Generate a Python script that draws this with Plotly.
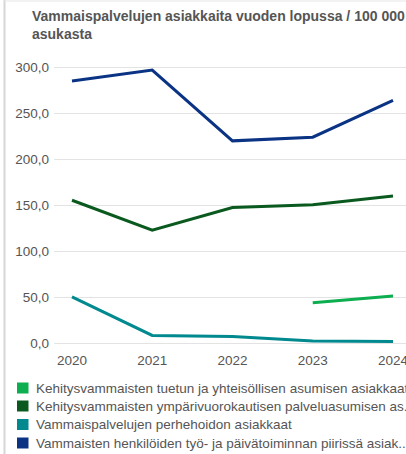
import plotly.graph_objects as go

years = [2020, 2021, 2022, 2023, 2024]
series_names = [
    "Kehitysvammaisten tuetun ja yhteisöllisen asumisen asiakkaat",
    "Kehitysvammaisten ympärivuorokautisen palveluasumisen as.",
    "Vammaispalvelujen perhehoidon asiakkaat",
    "Vammaisten henkilöiden työ- ja päivätoiminnan piirissä asiak..",
]
tuettu = [None, None, None, 44.0, 51.5]
ymparivuorokautinen = [155.5, 123.0, 147.5, 150.5, 160.0]
perhehoito = [50.5, 8.5, 7.5, 2.5, 2.0]
tyo_paiva = [285.0, 297.0, 220.0, 224.0, 264.0]
colors = ["#0cae4f", "#0a5a1f", "#00898e", "#0a3384"]
y_ticks = [0, 50, 100, 150, 200, 250, 300]
y_tick_labels = ["0,0", "50,0", "100,0", "150,0", "200,0", "250,0", "300,0"]

W, H = 406, 454
ML, MR, MT, MB = 54, 0, 60, 104

fig = go.Figure()
for vals, col in zip([tuettu, ymparivuorokautinen, perhehoito, tyo_paiva], colors):
    fig.add_trace(go.Scatter(x=years, y=vals, mode="lines",
                             line=dict(color=col, width=3), showlegend=False,
                             hoverinfo="skip"))

def px_to_paper(x, y):
    return (x - ML) / (W - ML - MR), 1 - (y - MT) / (H - MT - MB)

shapes = []
annotations = []
# frame lines (left and top border)
shapes.append(dict(type="line", xref="paper", yref="paper",
                   x0=px_to_paper(4.5, 0)[0], x1=px_to_paper(4.5, 0)[0],
                   y0=px_to_paper(0, 0)[1], y1=px_to_paper(0, H)[1],
                   line=dict(color="#d6d6d6", width=2)))
shapes.append(dict(type="line", xref="paper", yref="paper",
                   x0=px_to_paper(4, 0)[0], x1=px_to_paper(W, 0)[0],
                   y0=px_to_paper(0, 1)[1], y1=px_to_paper(0, 1)[1],
                   line=dict(color="#e6e6e6", width=1)))

row_y = [388, 406, 424.5, 443]
for name, col, ry in zip(series_names, colors, row_y):
    x0, y0 = px_to_paper(17, ry - 5.5)
    x1, y1 = px_to_paper(28.5, ry + 5.5)
    shapes.append(dict(type="rect", xref="paper", yref="paper",
                       x0=x0, x1=x1, y0=y1, y1=y0, fillcolor=col,
                       line=dict(width=0)))
    tx, ty = px_to_paper(34, ry)
    annotations.append(dict(text=name, xref="paper", yref="paper", x=tx, y=ty,
                            xanchor="left", yanchor="middle", showarrow=False,
                            font=dict(size=13.5, color="#555555")))

tx, ty = px_to_paper(30, 6)
annotations.append(dict(
    text="<b>Vammaispalvelujen asiakkaita vuoden lopussa / 100 000<br>asukasta</b>",
    xref="paper", yref="paper", x=tx, y=ty, xanchor="left", yanchor="top",
    align="left", showarrow=False,
    font=dict(size=14, color="#555555", family="Liberation Sans, Arial")))

fig.update_layout(
    width=W, height=H,
    margin=dict(l=ML, r=MR, t=MT, b=MB, autoexpand=False),
    paper_bgcolor="white", plot_bgcolor="white",
    font=dict(family="Liberation Sans, Arial, sans-serif", size=13.5, color="#555555"),
    showlegend=False,
    shapes=shapes, annotations=annotations,
    xaxis=dict(range=[2019.776, 2024.162], tickvals=years,
               ticktext=[str(y) for y in years], showgrid=False,
               zeroline=False, showline=False, ticks="",
               ticklabeloverflow="allow",
               tickfont=dict(size=13.5, color="#555555")),
    yaxis=dict(range=[-7.3, 307.9], tickvals=y_ticks, ticktext=y_tick_labels,
               showgrid=True, gridcolor="#e3e3e3", gridwidth=1,
               zeroline=False, showline=False, ticks="",
               ticklabelstandoff=4,
               tickfont=dict(size=13.5, color="#555555")),
)

fig.write_html("out.html", config={"displayModeBar": False},
               post_script="document.body.style.margin='0';document.body.style.overflow='hidden';")
